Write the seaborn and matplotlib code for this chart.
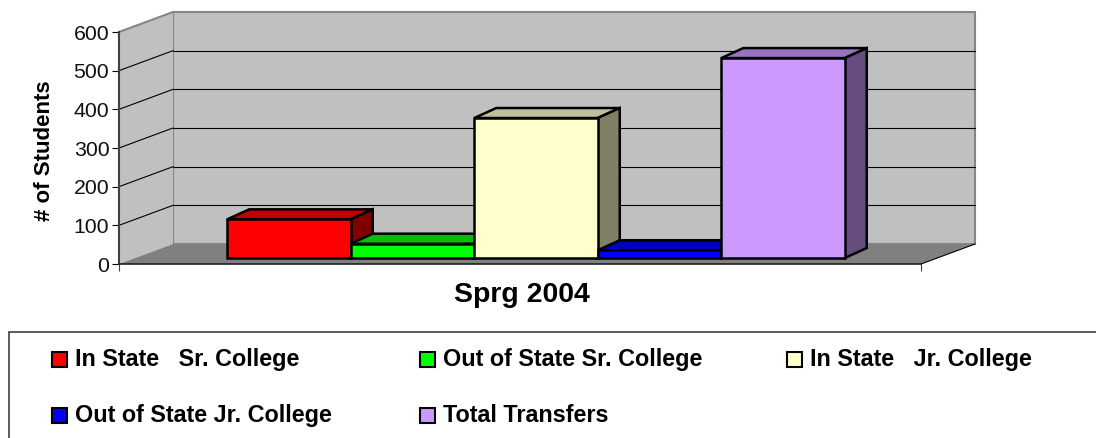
import matplotlib
matplotlib.use("Agg")
import matplotlib.pyplot as plt
from matplotlib.colors import to_rgb
from matplotlib.patches import Polygon, Rectangle
from matplotlib.transforms import Affine2D, ScaledTranslation
import pandas as pd
import seaborn as sns

# data
period = ["Sprg 2004"]
categories = ["In State   Sr. College", "Out of State Sr. College", "In State   Jr. College",
              "Out of State Jr. College", "Total Transfers"]
students = [100, 37, 362, 20, 517]
y_ticks = [0, 100, 200, 300, 400, 500, 600]
colors = ["#ff0000", "#00ff00", "#ffffcc", "#0000ff", "#cc99ff"]

W, H = 1096, 438
DPI = 100

sns.set_theme(style="white")
plt.rcParams["font.family"] = ["Liberation Sans", "DejaVu Sans"]

fig = plt.figure(figsize=(W / DPI, H / DPI), dpi=DPI)
# front plane of the 3d box, in pixels
left, right, top, bottom = 119, 921, 32, 264
ax = fig.add_axes([left / W, 1 - bottom / H, (right - left) / W, (bottom - top) / H])

df = pd.DataFrame({"period": period * len(categories), "type": categories, "students": students})
sns.barplot(data=df, x="period", y="students", hue="type", hue_order=categories, palette=colors,
            width=0.77, gap=0, saturation=1, legend=False, ax=ax, edgecolor="black", linewidth=1.8, zorder=5)
ax.set_xlim(-0.5, 0.5)
ax.set_ylim(0, 600)
ax.patch.set_visible(False)


def px_shift(dx, dy):
    # dy is pixels going up the screen
    return ScaledTranslation(dx / DPI, dy / DPI, fig.dpi_scale_trans)


# walls, floor and gridlines
WALL_DX, WALL_DY = 54, 20
back = ax.transData + px_shift(WALL_DX, WALL_DY)
base = ax.transData
ax.add_patch(Rectangle((-0.5, 0), 1, 600, transform=back, fc="#c0c0c0", ec="#868686", lw=1.5, zorder=1, clip_on=False))
ax.add_patch(Polygon([base.transform((-0.5, 0)), back.transform((-0.5, 0)), back.transform((-0.5, 600)),
                      base.transform((-0.5, 600))], closed=True, transform=None,
                     fc="#c0c0c0", ec="none", zorder=1, clip_on=False))
ax.add_patch(Polygon([base.transform((-0.5, 0)), back.transform((-0.5, 0)), back.transform((0.5, 0)),
                      base.transform((0.5, 0))], closed=True, transform=None,
                     fc="#808080", ec="none", zorder=2, clip_on=False))
for t in y_ticks[1:-1]:
    ax.plot([-0.5, 0.5], [t, t], transform=back, color="black", lw=0.8, zorder=2, clip_on=False)
    p0, p1 = base.transform((-0.5, t)), back.transform((-0.5, t))
    ax.plot([p0[0], p1[0]], [p0[1], p1[1]], transform=None, color="black", lw=0.8, zorder=2, clip_on=False)
p0, p1 = base.transform((-0.5, 600)), back.transform((-0.5, 600))
ax.plot([p0[0], p1[0]], [p0[1], p1[1]], transform=None, color="#868686", lw=1.5, zorder=2, clip_on=False)
p0, p1 = base.transform((0.5, 0)), back.transform((0.5, 0))
ax.plot([p0[0], p1[0]], [p0[1], p1[1]], transform=None, color="black", lw=0.8, zorder=3, clip_on=False)

# bars: push the fronts into the box, then add top and side faces
BAR_DX, BAR_DY = 16, 6
DEPTH_X, DEPTH_Y = 22, 10
bars = list(ax.patches)[:len(categories)]
disp = ax.transData + Affine2D().translate(BAR_DX, BAR_DY)
order = sorted(range(len(bars)), key=lambda i: bars[i].get_x())
for z, i in enumerate(order):
    bar = bars[i]
    bar.set_transform(disp)
    bar.set_clip_on(False)
    bar.set_zorder(6 + z * 2)
    x0, x1 = bar.get_x(), bar.get_x() + bar.get_width()
    h = bar.get_height()
    xa, ya = disp.transform((x0, h))
    xb, yb = disp.transform((x1, h))
    _, y0 = disp.transform((x1, 0))
    rgb = to_rgb(colors[i])
    top_c = tuple(c * 0.75 for c in rgb)
    side_c = tuple(c * 0.5 for c in rgb)
    ax.add_patch(Polygon([(xa, ya), (xa + DEPTH_X, ya + DEPTH_Y), (xb + DEPTH_X, yb + DEPTH_Y), (xb, yb)],
                         transform=None, fc=top_c, ec="black", lw=1.8, zorder=5 + z * 2, clip_on=False))
    ax.add_patch(Polygon([(xb, yb), (xb + DEPTH_X, yb + DEPTH_Y), (xb + DEPTH_X, y0 + DEPTH_Y), (xb, y0)],
                         transform=None, fc=side_c, ec="black", lw=1.8, zorder=5 + z * 2, clip_on=False))

# axes
for name in ["top", "right"]:
    ax.spines[name].set_visible(False)
ax.spines["left"].set(color="#404040", lw=1.5, zorder=4)
ax.spines["bottom"].set(color="#202020", lw=1.2, zorder=4)
ax.set_yticks(y_ticks)
ax.set_xticks([-0.5, 0.5])
ax.tick_params(axis="y", left=True, length=5, width=0.8, color="black", labelsize=15.3, pad=2, labelcolor="#111111")
ax.tick_params(axis="x", bottom=True, length=5, width=0.8, color="#404040", labelbottom=False)
ax.set_xlabel("")
ax.set_ylabel("# of Students", fontsize=16, fontweight="bold", color="black")
ax.yaxis.set_label_coords((55 - left) / (right - left), 0.487)
fig.text(522 / W, 1 - 295 / H, period[0], ha="center", va="center", fontsize=20.5, fontweight="bold", color="black")

# legend box runs off the page on the right and bottom
fig.add_artist(Rectangle((8.5 / W, 1 - 445 / H), 1.1, (445 - 332) / H, transform=fig.transFigure,
                         fc="white", ec="#404040", lw=1.2))
xs = [52, 420, 787]
ys = [359.5, 415.5]
for i, (c, name) in enumerate(zip(colors, categories)):
    px, py = xs[i % 3], ys[i // 3]
    fig.add_artist(Rectangle((px / W, 1 - (py + 7.5) / H), 15 / W, 15 / H, transform=fig.transFigure,
                             fc=c, ec="black", lw=1.5))
    fig.text((px + 23) / W, 1 - py / H, name, ha="left", va="center", fontsize=16.8, fontweight="bold", color="black")

fig.savefig("out.png", dpi=DPI)
